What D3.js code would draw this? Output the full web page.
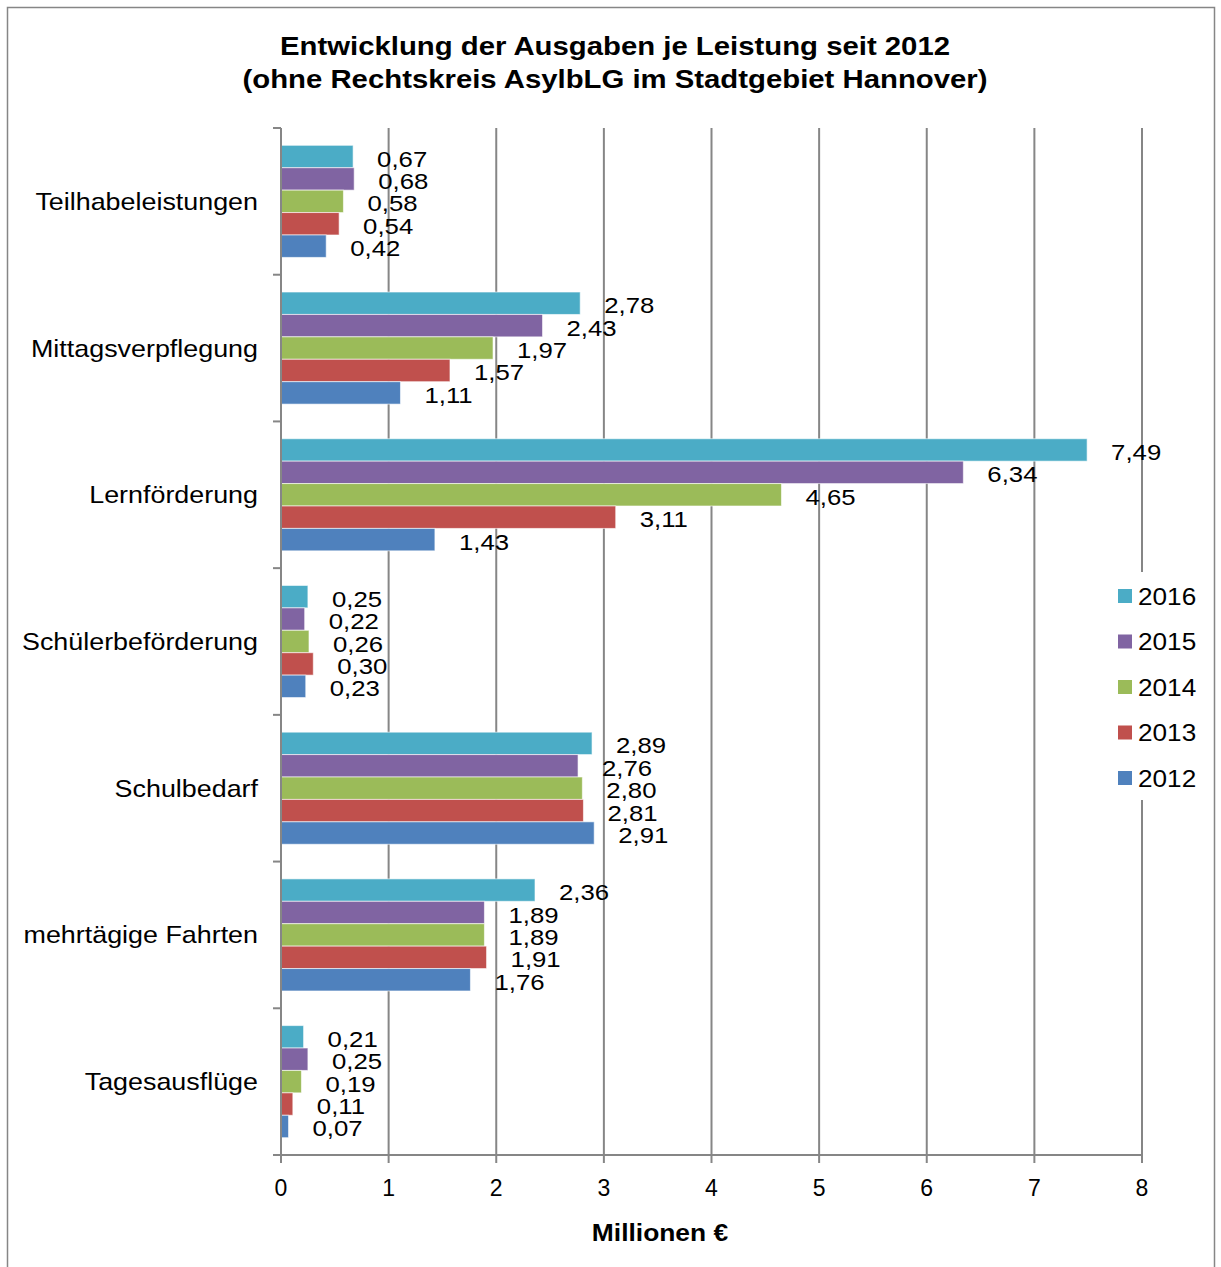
<!DOCTYPE html>
<html><head><meta charset="utf-8">
<script src="https://cdn.jsdelivr.net/npm/d3@7"></script>
<style>body{margin:0;background:#fff}svg{display:block;font-family:"Liberation Sans",Arial,sans-serif}</style>
</head><body>
<svg id="c" width="1221" height="1267"></svg>
<script>
const categories = ["Teilhabeleistungen","Mittagsverpflegung","Lernförderung","Schülerbeförderung","Schulbedarf","mehrtägige Fahrten","Tagesausflüge"];
const years = ["2016","2015","2014","2013","2012"];
const v2016 = [0.67,2.78,7.49,0.25,2.89,2.36,0.21];
const v2015 = [0.68,2.43,6.34,0.22,2.76,1.89,0.25];
const v2014 = [0.58,1.97,4.65,0.26,2.80,1.89,0.19];
const v2013 = [0.54,1.57,3.11,0.30,2.81,1.91,0.11];
const v2012 = [0.42,1.11,1.43,0.23,2.91,1.76,0.07];
const xTicks = [0,1,2,3,4,5,6,7,8];
const colors = ["#4BACC6","#8064A2","#9BBB59","#C0504D","#4F81BD"];
const titleLines = ["Entwicklung der Ausgaben je Leistung seit 2012","(ohne Rechtskreis AsylbLG im Stadtgebiet Hannover)"];
const axisTitle = "Millionen €";

const series = [v2016,v2015,v2014,v2013,v2012];
const svg = d3.select("#c");
svg.append("rect").attr("x",7.5).attr("y",7.5).attr("width",1207).attr("height",1270).attr("fill","#fff").attr("stroke","#868686").attr("stroke-width",1.5);

function txt(parent, x, y, s, size, sx, anchor, bold){
  return parent.append("text").attr("x",0).attr("y",0)
    .attr("transform",`translate(${x},${y}) scale(${sx},1)`)
    .attr("text-anchor",anchor||"start").attr("dominant-baseline","central")
    .attr("font-size",size).attr("font-weight",bold?"bold":"normal").attr("fill","#000").text(s);
}

const x0=281,x1=1142,y0=128,y1=1155;
const x = d3.scaleLinear().domain([0,8]).range([x0,x1]);
const y = d3.scaleBand().domain(categories).range([y0,y1]).paddingInner(0.236).paddingOuter(0.118);
const yi = d3.scaleBand().domain(years).range([0,y.bandwidth()]);
const grey="#868686";

// gridlines
svg.append("g").selectAll("line").data(xTicks.slice(1)).join("line")
  .attr("x1",d=>x(d)).attr("x2",d=>x(d)).attr("y1",y0).attr("y2",y1)
  .attr("stroke",grey).attr("stroke-width",2);

// bars
const g = svg.append("g");
categories.forEach((c,ci)=>{
  years.forEach((yr,si)=>{
    const val = series[si][ci];
    g.append("rect").attr("x",x(0)).attr("y",y(c)+yi(yr)).attr("width",x(val)-x(0)).attr("height",yi.bandwidth())
      .attr("fill",colors[si]).attr("stroke","rgba(255,255,255,0.6)").attr("stroke-width",1);
  });
});

// y axis
svg.append("line").attr("x1",x0).attr("x2",x0).attr("y1",y0).attr("y2",y1).attr("stroke",grey).attr("stroke-width",2);
const bounds = d3.range(categories.length+1).map(i=>y0+i*(y1-y0)/categories.length);
svg.append("g").selectAll("line").data(bounds).join("line")
  .attr("x1",x0-8).attr("x2",x0).attr("y1",d=>d).attr("y2",d=>d).attr("stroke",grey).attr("stroke-width",2);
const yl = svg.append("g");
categories.forEach(c=>txt(yl,258,y(c)+y.bandwidth()/2,c,24,1.12,"end"));

// x axis
svg.append("line").attr("x1",x0-8).attr("x2",x1).attr("y1",y1).attr("y2",y1).attr("stroke",grey).attr("stroke-width",2);
svg.append("g").selectAll("line").data(xTicks).join("line")
  .attr("x1",d=>x(d)).attr("x2",d=>x(d)).attr("y1",y1).attr("y2",y1+8).attr("stroke",grey).attr("stroke-width",2);
const xl = svg.append("g");
xTicks.forEach(t=>txt(xl,x(t),1188,String(t),23,1,"middle"));

// value labels
const fmt = d=>d.toFixed(2).replace(".",",");
const vl = svg.append("g");
categories.forEach((c,ci)=>{
  years.forEach((yr,si)=>{
    const val = series[si][ci];
    txt(vl,x(val)+24,y(c)+yi(yr)+yi.bandwidth()/2+2,fmt(val),23,1.12,"start");
  });
});

// title
titleLines.forEach((t,i)=>txt(svg,615,46+i*33.5,t,25.5,1.15,"middle",true));
txt(svg,660,1232,axisTitle,24,1.1,"middle",true);

// legend
const lg = svg.append("g");
lg.append("rect").attr("x",1110).attr("y",572).attr("width",95).attr("height",228).attr("fill","#fff");
years.forEach((yr,i)=>{
  const cy = 596+i*45.5;
  lg.append("rect").attr("x",1118).attr("y",cy-7).attr("width",14).attr("height",14).attr("fill",colors[i]);
  txt(lg,1138,cy,yr,24,1.09,"start");
});
</script>
</body></html>
